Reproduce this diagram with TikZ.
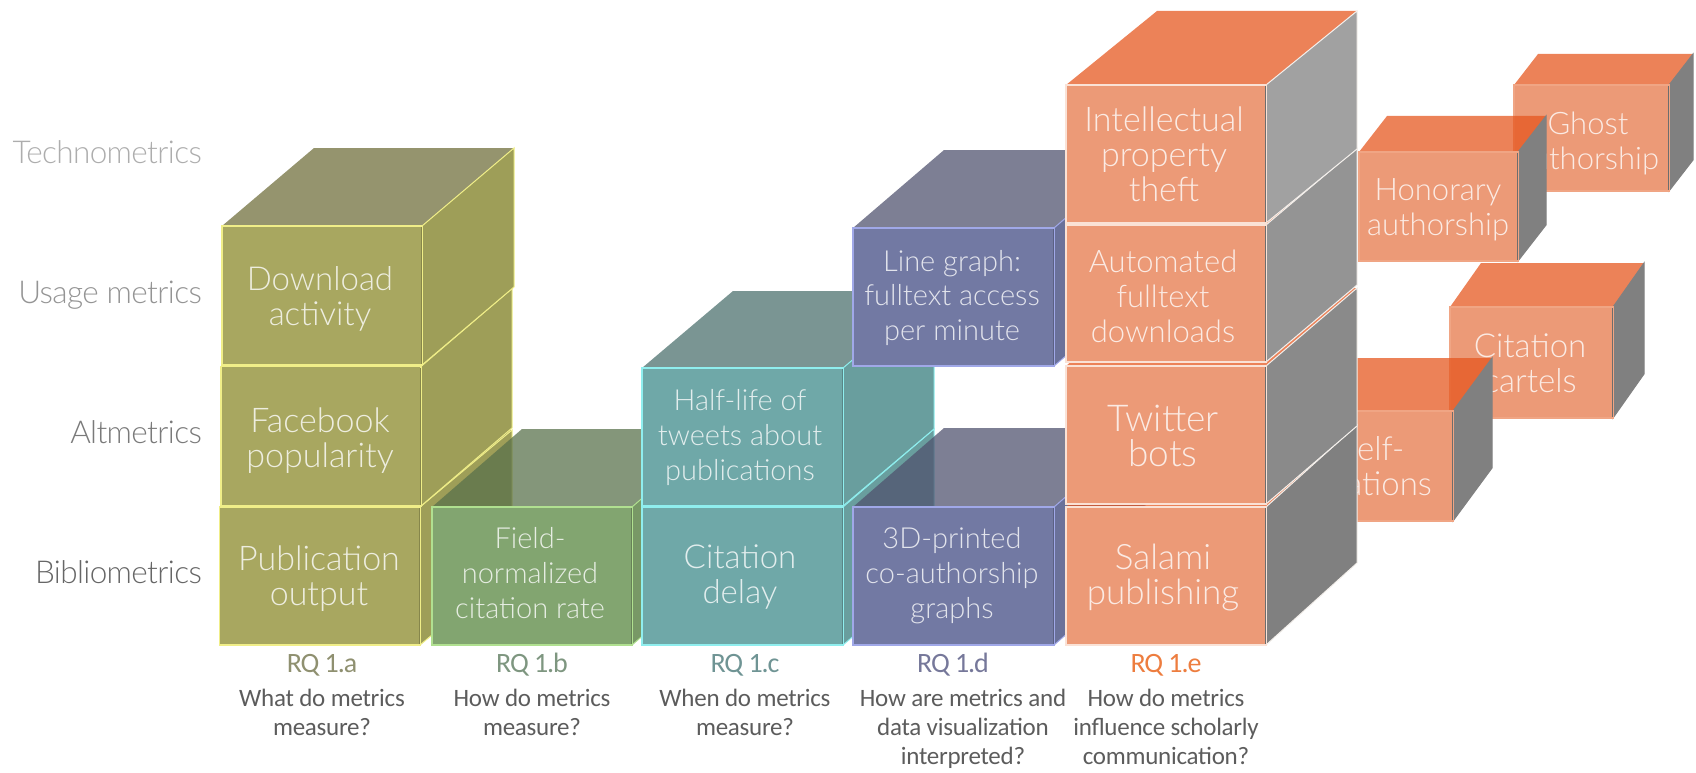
\documentclass[tikz,border=0pt]{standalone}
\usepackage{fontspec}
\setmainfont{Carlito}
\newfontfamily\boxfont{Lato}[UprightFont=* Light]
\definecolor{afront}{RGB}{168,167,96}\definecolor{aside}{RGB}{158,158,88}\definecolor{atop}{RGB}{112,110,60}\definecolor{aedge}{RGB}{240,238,136}\colorlet{asedge}{aedge}
\definecolor{bfront}{RGB}{130,165,112}\definecolor{bside}{RGB}{120,152,102}\definecolor{btop}{RGB}{89,113,75}\definecolor{bedge}{RGB}{176,224,144}\colorlet{bsedge}{bedge}
\definecolor{cfront}{RGB}{111,168,168}\definecolor{cside}{RGB}{105,158,158}\definecolor{ctop}{RGB}{75,112,109}\definecolor{cedge}{RGB}{143,238,238}\colorlet{csedge}{cedge}
\definecolor{dfront}{RGB}{114,121,163}\definecolor{dside}{RGB}{106,113,154}\definecolor{dtop}{RGB}{80,82,110}\definecolor{dedge}{RGB}{160,168,232}\colorlet{dsedge}{dedge}
\definecolor{efront}{RGB}{236,154,119}\definecolor{eside}{RGB}{128,128,128}\definecolor{etop}{RGB}{230,86,30}\definecolor{eedge}{RGB}{240,165,132}\colorlet{esedge}{eside}
\colorlet{ffront}{efront}\colorlet{fside}{eside}\colorlet{ftop}{etop}\definecolor{fedge}{RGB}{250,226,214}\definecolor{fsedge}{RGB}{244,240,236}
\definecolor{rqa}{RGB}{143,144,112}\definecolor{rqb}{RGB}{126,150,128}\definecolor{rqc}{RGB}{111,148,148}\definecolor{rqd}{RGB}{118,120,154}\definecolor{rqe}{RGB}{237,125,63}
\tikzset{x=1pt,y=-1pt,
  boxtext/.style={font=\boxfont\fontsize{#1}{35}\selectfont,align=center,text=white,text opacity=.8,inner sep=0pt},
  question/.style={font=\fontsize{25}{29}\selectfont\addfontfeature{LetterSpace=-1},align=center,text=black!64,inner sep=0pt},
  rqlabel/.style={font=\fontsize{28}{28}\selectfont\addfontfeature{LetterSpace=-4},text=#1,inner sep=0pt},
  level/.style={font=\boxfont\fontsize{31.5}{32}\selectfont\addfontfeature{LetterSpace=-2},anchor=base east,text=#1,inner sep=0pt}}
% x0 x1 ytop ybot dx dy prefix sidegray
\newcommand\cubeblock[8]{%
  \fill[#7top,opacity=.74] (#1,#3)--++(#5,-#6)--(#2+#5,#3-#6)--(#2,#3)--cycle;
  \filldraw[fill=#8,draw=#7sedge,line width=1pt] (#2,#3)--++(#5,-#6)--(#2+#5,#4-#6)--(#2,#4)--cycle;
  \draw[#7edge,line width=1.5pt,fill=#7front] (#1,#3) rectangle (#2,#4);
  \draw[#7side!85!black,line width=.6pt] (#2-1,#3+1)--(#2-1,#4-1);
}
\begin{document}
\begin{tikzpicture}
\useasboundingbox (0,0) rectangle (1696,773);
% level labels
\node[level=black!32] (l1) at (202,163) {Technometrics};
\node[level=black!42] (l2) at (202,303) {Usage metrics};
\node[level=black!52] (l3) at (202,443) {Altmetrics};
\node[level=black!60] (l4) at (202,583) {Bibliometrics};
% column a
\cubeblock{219.5}{420}{507}{645}{92}{77}{a}{aside}
\cubeblock{221}{421}{366.5}{506}{91}{78}{a}{aside}
\cubeblock{222}{422}{226}{365}{92}{78}{a}{aside}
% column b
\cubeblock{432}{632}{507}{645}{90}{78}{b}{bside}
% column c
\cubeblock{642}{843}{507}{645}{91}{78}{c}{cside}
\cubeblock{642}{843}{368}{506}{91}{77}{c}{cside}
% column d
\cubeblock{853}{1054}{507}{645}{91}{79}{d}{dside}
\cubeblock{853}{1054}{228}{366}{91}{78}{d}{dside}
% floating blocks
\cubeblock{1514}{1669}{85}{191}{24}{31}{e}{eside}
\node[boxtext=31] (ghost) at (1588,143) {Ghost\\authorship};
\cubeblock{1359}{1518}{152}{261}{28}{36}{e}{eside}
\node[boxtext=31] (honorary) at (1438,210) {Honorary\\authorship};
\cubeblock{1450}{1613}{307}{418}{31}{44}{e}{eside}
\node[boxtext=33] (cartels) at (1530,363) {Citation\\cartels};
\cubeblock{1290}{1453}{411}{521}{39}{53}{e}{eside}
\node[boxtext=33] (self) at (1372,466) {Self-\\citations};
% column e
\cubeblock{1066}{1266}{507}{645}{91}{82}{f}{black!50}
\cubeblock{1066}{1266}{366}{504}{91}{78}{f}{black!46}
\cubeblock{1066}{1266}{225}{362}{91}{77}{f}{black!42}
\cubeblock{1066}{1266}{85}{223}{91}{74}{f}{black!37}
% box texts
\node[boxtext=34] (pub) at (319,579) {Publication\\output};
\node[boxtext=34] (fb) at (320,441) {Facebook\\popularity};
\node[boxtext=33] (dl) at (320,299) {Download\\activity};
\node[boxtext=29] (field) at (530,573) {Field-\\normalized\\citation rate};
\node[boxtext=33] (delay) at (740,577) {Citation\\delay};
\node[boxtext=29] (half) at (740,437) {Half-life of\\tweets about\\publications};
\node[boxtext=29] (print) at (952,576) {3D-printed\\co-authorship\\graphs};
\node[boxtext=29] (line) at (952,298) {Line graph:\\fulltext access\\per minute};
\node[boxtext=35] (salami) at (1163,578) {Salami\\publishing};
\node[boxtext=37] (twitter) at (1163,436) {Twitter\\bots};
\node[boxtext=31] (auto) at (1163,296) {Automated\\fulltext\\downloads};
\node[boxtext=34] (ip) at (1164,154) {Intellectual\\property\\theft};
% research questions
\node[rqlabel=rqa] (na) at (322,665) {RQ 1.a};
\node[rqlabel=rqb] (nb) at (532,665) {RQ 1.b};
\node[rqlabel=rqc] (nc) at (745,665) {RQ 1.c};
\node[rqlabel=rqd] (nd) at (953,665) {RQ 1.d};
\node[rqlabel=rqe] (ne) at (1166,665) {RQ 1.e};
\node[question,anchor=north] (qa) at (322,689) {What do metrics\\measure?};
\node[question,anchor=north] (qb) at (532,689) {How do metrics\\measure?};
\node[question,anchor=north] (qc) at (745,689) {When do metrics\\measure?};
\node[question,anchor=north] (qd) at (963,689) {How are metrics and\\data visualization\\interpreted?};
\node[question,anchor=north] (qe) at (1166,689) {How do metrics\\influence scholarly\\communication?};
\end{tikzpicture}
\end{document}
